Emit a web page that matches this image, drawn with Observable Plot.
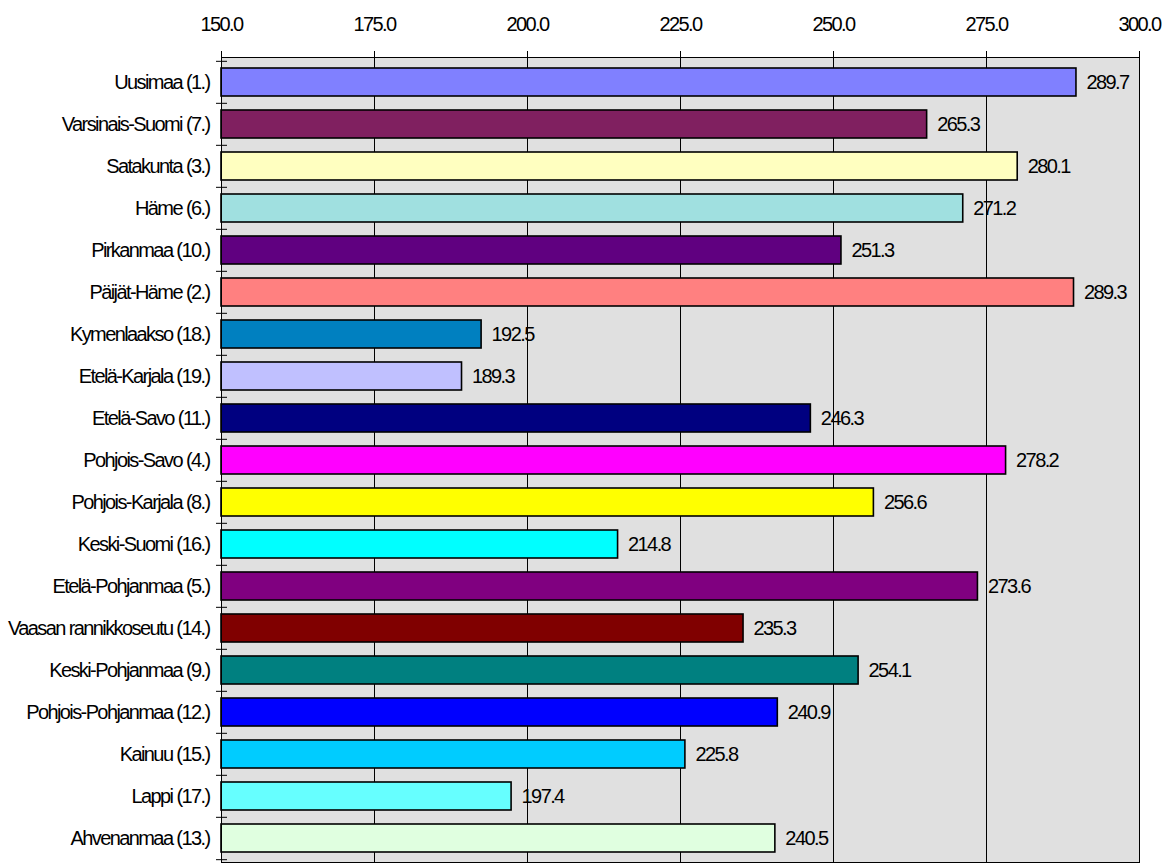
<!DOCTYPE html>
<html>
<head>
<meta charset="utf-8">
<script src="https://cdn.jsdelivr.net/npm/d3@7"></script>
<script src="https://cdn.jsdelivr.net/npm/@observablehq/plot@0.6"></script>
<style>
  html, body { margin: 0; padding: 0; background: #ffffff; }
  #chart svg text { font-size: 20px; letter-spacing: -1.6px; }
</style>
</head>
<body>
<div id="chart"></div>
<script>
const regions = [
  "Uusimaa (1.)", "Varsinais-Suomi (7.)", "Satakunta (3.)", "Häme (6.)",
  "Pirkanmaa (10.)", "Päijät-Häme (2.)", "Kymenlaakso (18.)", "Etelä-Karjala (19.)",
  "Etelä-Savo (11.)", "Pohjois-Savo (4.)", "Pohjois-Karjala (8.)", "Keski-Suomi (16.)",
  "Etelä-Pohjanmaa (5.)", "Vaasan rannikkoseutu (14.)", "Keski-Pohjanmaa (9.)",
  "Pohjois-Pohjanmaa (12.)", "Kainuu (15.)", "Lappi (17.)", "Ahvenanmaa (13.)"
];
const values = [289.7, 265.3, 280.1, 271.2, 251.3, 289.3, 192.5, 189.3, 246.3, 278.2,
                256.6, 214.8, 273.6, 235.3, 254.1, 240.9, 225.8, 197.4, 240.5];
const colors = ["#8080ff", "#802060", "#ffffc0", "#a0e0e0", "#600080", "#ff8080",
                "#0080c0", "#c0c0ff", "#000080", "#ff00ff", "#ffff00", "#00ffff",
                "#800080", "#800000", "#008080", "#0000ff", "#00ccff", "#66ffff", "#e0ffe0"];
const xTicks = [150, 175, 200, 225, 250, 275, 300];

const data = regions.map((r, i) => ({region: r, value: values[i], color: colors[i]}));

const W = 1173, H = 864, MT = 57, MB = 2, ML = 221, MR = 34;
const step = (H - MT - MB) / regions.length;
const xMin = xTicks[0], xMax = xTicks[xTicks.length - 1];
const dashUnits = (xMax - xMin) * 11 / (W - ML - MR);

const chart = Plot.plot({
  width: W,
  height: H,
  marginTop: MT,
  marginBottom: MB,
  marginLeft: ML,
  marginRight: MR,
  style: {fontFamily: "'Liberation Sans', Arial, sans-serif", fontSize: "20px", color: "#000", background: "#fff"},
  x: {
    domain: [xMin, xMax],
    axis: "top",
    ticks: xTicks,
    tickFormat: d => d.toFixed(1),
    tickSize: 7,
    tickPadding: 20,
    label: null
  },
  y: {
    domain: regions,
    paddingInner: 0.34,
    paddingOuter: 0.17,
    tickSize: 0,
    tickPadding: 12,
    label: null
  },
  marks: [
    Plot.frame({fill: "#e0e0e0"}),
    Plot.ruleX(xTicks.slice(1), {stroke: "#000", strokeWidth: 1}),
    Plot.barX(data, {
      y: "region", x1: xMin, x2: "value",
      fill: d => d.color, stroke: "#000", strokeWidth: 1.6
    }),
    Plot.text(data, {
      y: "region", x: "value",
      text: d => d.value.toFixed(1),
      textAnchor: "start", dx: 10, fill: "#000", fontSize: 20
    }),
    Plot.frame({stroke: "#000", strokeWidth: 1}),
    Plot.ruleY(regions, {
      y: d => d, x1: xMin, x2: xMin + dashUnits, dx: -5, dy: -step / 2,
      stroke: "#000", strokeWidth: 1
    }),
    Plot.ruleY(regions.slice(-1), {
      y: d => d, x1: xMin, x2: xMin + dashUnits, dx: -5, dy: step / 2,
      stroke: "#000", strokeWidth: 1
    })
  ]
});
chart.querySelectorAll("text").forEach(t => t.style.letterSpacing = "-1.6px");
document.getElementById("chart").appendChild(chart);
</script>
</body>
</html>
